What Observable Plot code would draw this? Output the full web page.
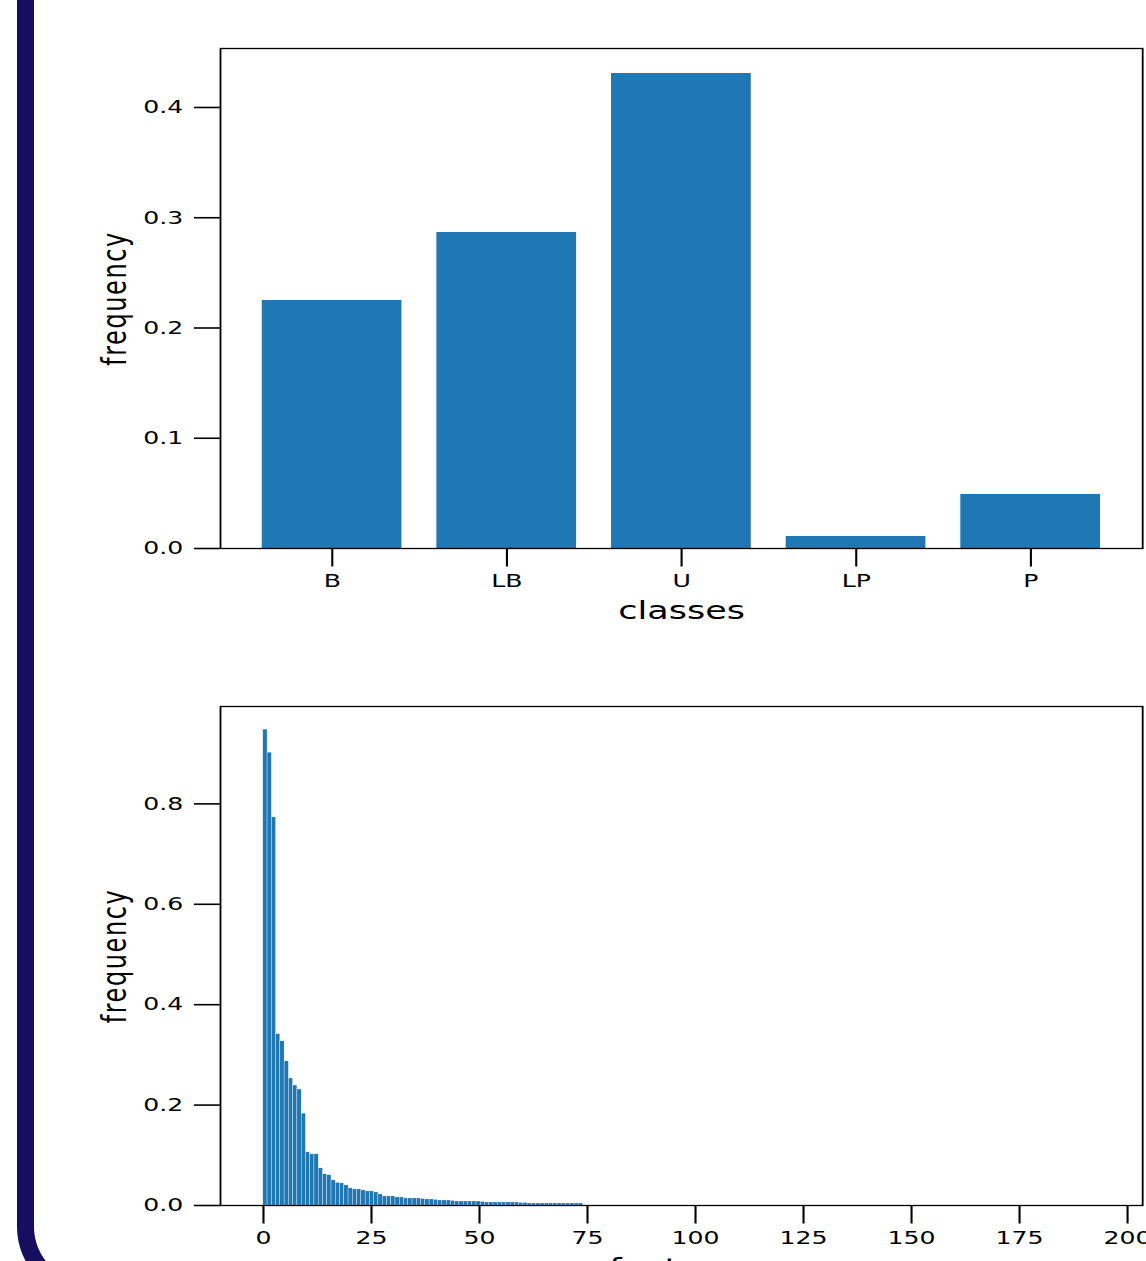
<!DOCTYPE html>
<html>
<head>
<meta charset="utf-8">
<script src="https://cdn.jsdelivr.net/npm/d3@7"></script>
<script src="https://cdn.jsdelivr.net/npm/@observablehq/plot@0.6"></script>
<style>
  html, body { margin: 0; padding: 0; background: #fff; width: 1146px; height: 1261px; overflow: hidden; }
  #frame { position: absolute; left: 17px; top: -100px; width: 2000px; height: 1382px; z-index: 2;
           border-left: 17px solid #160e5e; border-bottom: 17px solid #160e5e;
           border-bottom-left-radius: 72px; pointer-events: none; }
  #charts { position: absolute; left: 0; top: 0; z-index: 1; transform: scaleX(1.4); transform-origin: 0 0; }
  #charts svg { display: block; background: transparent; }
</style>
</head>
<body>
<div id="frame"></div>
<div id="charts"></div>
<script>
// ---- data ----
const classes = ["B", "LB", "U", "LP", "P"];
const classFreq = [0.225, 0.2866, 0.4308, 0.0109, 0.049];
const classTicks = [0, 0.1, 0.2, 0.3, 0.4];

const featureFreq = [
  0.948, 0.902, 0.773, 0.341, 0.327, 0.287, 0.253, 0.239, 0.231, 0.183,
  0.106, 0.102, 0.102, 0.074, 0.062, 0.060, 0.050, 0.045, 0.044, 0.040,
  0.034, 0.032, 0.032, 0.030, 0.028, 0.028, 0.026, 0.022, 0.018, 0.018,
  0.018, 0.016, 0.016, 0.014, 0.014, 0.014, 0.014, 0.013, 0.012, 0.012,
  0.011, 0.010, 0.010, 0.010, 0.009, 0.008, 0.008, 0.008, 0.008, 0.008,
  0.008, 0.007, 0.006, 0.006, 0.006, 0.006, 0.006, 0.006, 0.006, 0.006,
  0.005, 0.005, 0.004, 0.004, 0.004, 0.004, 0.004, 0.004, 0.004, 0.004,
  0.004, 0.004, 0.004, 0.004, 0.004
];
const binWidth = 0.987;
const featureXTicks = [0, 25, 50, 75, 100, 125, 150, 175, 200];
const featureYTicks = [0, 0.2, 0.4, 0.6, 0.8];
const featureXDomain = [-9.95, 203.5];

const barColor = "#1f77b4";
const W = 819;       // drawn width before horizontal stretch (x1.4)
const fmt = d3.format(".1f");

const classData = classes.map((c, i) => ({cls: c, freq: classFreq[i]}));
const featData = featureFreq.map((f, i) => ({x1: i * binWidth, x2: (i + 1) * binWidth, freq: f}));

const common = {
  width: W,
  marginLeft: 157,
  marginRight: 3.3,
  style: {fontFamily: "DejaVu Sans", fontSize: "18px", color: "black", background: "transparent", overflow: "visible"}
};

const classChart = Plot.plot({
  ...common,
  height: 640,
  marginTop: 48,
  marginBottom: 92,
  x: {type: "band", domain: classes, paddingInner: 0.2, paddingOuter: 0.24, align: 0.5, round: false},
  y: {domain: [0, 0.4535]},
  marks: [
    Plot.barY(classData, {x: "cls", y: "freq", fill: barColor}),
    Plot.frame({stroke: "black", strokeWidth: 1.3}),
    Plot.axisX({tickSize: 18.5, tickPadding: 7, strokeWidth: 1.5, label: null}),
    Plot.axisY({ticks: classTicks, tickFormat: fmt, tickSize: 18.5, tickPadding: 8, strokeWidth: 1.6, label: null}),
    Plot.text(["classes"], {frameAnchor: "bottom", dy: 70, lineAnchor: "bottom", fontSize: 25, text: d => d}),
    Plot.text(["frequency"], {frameAnchor: "left", textAnchor: "middle", dx: -75, rotate: -90, fontSize: 24, text: d => d})
  ]
});

const featureChart = Plot.plot({
  ...common,
  height: 660,
  marginTop: 66,
  marginBottom: 95,
  x: {domain: featureXDomain},
  y: {domain: [0, 0.994]},
  marks: [
    Plot.rectY(featData, {x1: "x1", x2: "x2", y: "freq", fill: barColor, stroke: "white", strokeWidth: 0.25}),
    Plot.frame({stroke: "black", strokeWidth: 1.3}),
    Plot.axisX({ticks: featureXTicks, tickSize: 18.5, tickPadding: 7, strokeWidth: 1.5, label: null}),
    Plot.axisY({ticks: featureYTicks, tickFormat: fmt, tickSize: 18.5, tickPadding: 8, strokeWidth: 1.6, label: null}),
    Plot.text(["features"], {frameAnchor: "bottom", dy: 70, lineAnchor: "bottom", fontSize: 25, text: d => d}),
    Plot.text(["frequency"], {frameAnchor: "left", textAnchor: "middle", dx: -75, rotate: -90, fontSize: 24, text: d => d})
  ]
});

const holder = document.getElementById("charts");
holder.appendChild(classChart);
holder.appendChild(featureChart);
d3.selectAll("#charts text").filter(function() { return this.textContent === "frequency"; })
  .attr("letter-spacing", "1.6");
</script>
</body>
</html>
